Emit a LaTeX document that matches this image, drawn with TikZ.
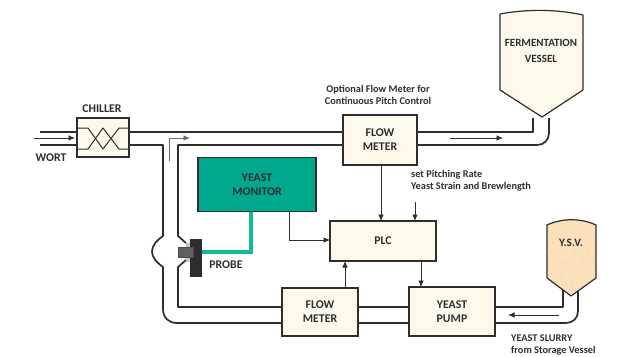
\documentclass[tikz,border=0pt]{standalone}
\usepackage{fontspec}
\setmainfont{Carlito}
\usetikzlibrary{arrows.meta}
\definecolor{ink}{HTML}{2F2D2E}
\definecolor{txt}{HTML}{2F2F31}
\definecolor{cream}{HTML}{FFF8EC}
\definecolor{monitor}{HTML}{00A88C}
\definecolor{lead}{HTML}{14B89A}
\definecolor{slurry}{HTML}{FBE0BC}
\definecolor{speck}{HTML}{F5B766}
\tikzset{
  pipe/.style={draw=ink,line width=1.7pt,line join=round},
  box/.style={draw=ink,line width=1.2pt,fill=cream,align=center,text=txt,font=\bfseries\fontsize{11.8}{14}\selectfont,inner sep=0pt,outer sep=0pt},
  flow/.style={draw=ink,line width=0.8pt,-{Latex[length=6.5pt,width=5.5pt]}},
  note/.style={text=txt,font=\bfseries\fontsize{10.3}{12.5}\selectfont,align=left,inner sep=0pt},
  label/.style={text=txt,font=\bfseries\fontsize{11.8}{14}\selectfont,inner sep=0pt,align=center},
  vessel/.style={draw=ink,line width=1.2pt,line join=round},
}
\begin{document}
\begin{tikzpicture}[x=1pt,y=-1pt]
\useasboundingbox[fill=white] (0,0) rectangle (618,356);
% boxes
\node[box,minimum width=52pt,minimum height=39pt] (chiller) at (103,137.5) {};
\node[box,minimum width=74pt,minimum height=50pt] (fmtop) at (380,140) {FLOW\\METER};
\node[box,minimum width=76pt,minimum height=48pt] (fmlow) at (320,312) {FLOW\\METER};
\node[box,minimum width=86pt,minimum height=49pt] (pump) at (452,311.5) {YEAST\\PUMP};
\node[box,minimum width=106pt,minimum height=40pt] (plc) at (383,241) {PLC};
\node[box,fill=monitor,minimum width=118pt,minimum height=54pt] (monitor) at (257,184.5) {YEAST\\MONITOR};
% waypoints
\coordinate (fvL) at (533,118);
\coordinate (fvR) at (549,118);
\coordinate (ysL) at (563,290);
\coordinate (ysR) at (578,290);
\coordinate (wa) at (40,132);
\coordinate (wb) at (40,145);
% pipes
\draw[pipe] (wa) -- (chiller.west |- wa);
\draw[pipe] (wb) -- (chiller.west |- wb);
\draw[pipe] (chiller.east |- wa) -- (fmtop.west |- wa);
\draw[pipe] (fmtop.east |- wa) -- (fvL |- wa) -- (fvL);
\draw[pipe] (fmtop.east |- wb) -- (537,145) .. controls (544,145) and (549,140) .. (549,133) -- (fvR);
\draw[pipe] (chiller.east |- wb) -- (163,145) -- (163,236)
   .. controls (156,241) and (152,246) .. (152,251.5)
   .. controls (152,257) and (156,262) .. (163,267)
   -- (163,309) .. controls (163,318) and (169,323) .. (177,323) -- (fmlow.west |- 0,323);
\draw[pipe] (fmtop.west |- wb) -- (178,145) -- (178,236) -- (186,243);
\draw[pipe] (186,260) -- (178,267) -- (178,307) -- (fmlow.west |- 0,307);
\draw[pipe] (fmlow.east |- 0,307) -- (pump.west |- 0,307);
\draw[pipe] (fmlow.east |- 0,323) -- (pump.west |- 0,323);
\draw[pipe] (pump.east |- 0,307) -- (ysL |- 0,307) -- (ysL);
\draw[pipe] (pump.east |- 0,323) -- (566,323) .. controls (573,323) and (578,318) .. (578,311) -- (ysR);
% fermentation vessel
\draw[vessel,fill=cream] (500,14) .. controls (527,9) and (556,9) .. (583,15) -- (583,90) -- (542,117) -- (500,90) -- cycle;
\node[label,font=\bfseries\fontsize{11}{16}\selectfont] (fv) at (541,51) {FERMENTATION\\VESSEL};
% Y.S.V.
\draw[vessel,fill=slurry] (547,225) .. controls (562,218) and (581,218) .. (596,225) -- (596,278) -- (571,296) -- (547,278) -- cycle;
\foreach \px/\py in {552/232,558/238,566/226,587/231,590/241,551/252,563/262,566/263,575/250,583/258,555/270,561/277,570/266,579/275,590/268,588/250,553/243,578/241,572/285,566/284,577/283,558/258,583/272,593/258}
  \fill[speck] (\px,\py) circle (0.7pt);
\node[label,font=\bfseries\fontsize{11.3}{14}\selectfont] (ysv) at (571,243) {Y.S.V.};
% chiller coil
\draw[draw=ink,line width=1pt,line join=round] (chiller.west |- 0,128) -- (88,128) -- (103,149) -- (119,128) -- (chiller.east |- 0,128);
\draw[draw=ink,line width=1pt,line join=round] (chiller.west |- 0,149) -- (88,149) -- (103,128) -- (119,149) -- (chiller.east |- 0,149);
% probe
\fill[gray!45] (186,243) rectangle (191,262);
\draw[draw=lead,line width=3.6pt] (monitor.south -| 251,0) -- (251,252) -- (200,252);
\node[fill=ink,minimum width=12pt,minimum height=38pt,inner sep=0pt,outer sep=0pt] (probe) at (196,258) {};
\node[fill=gray!75!black,draw=gray!60!black,line width=0.4pt,minimum width=15pt,minimum height=10pt,inner sep=0pt,outer sep=0pt] (tip) at (185.5,252) {};
\node[label] (probelabel) at (226,265) {PROBE};
% signal arrows
\coordinate (corner) at (289,240);
\draw[flow] (monitor.south -| corner) -- (corner) -- (plc.west |- corner);
\draw[flow] (fmtop.south -| 381,0) -- (plc.north -| 381,0);
\coordinate (setp) at (415,202);
\draw[flow] (setp) -- (plc.north -| setp);
\draw[flow] (fmlow.north -| 345,0) -- (plc.south -| 345,0);
\draw[flow] (plc.south -| 421,0) -- (pump.north -| 421,0);
% flow arrows
\coordinate (wi) at (34,138);
\coordinate (wo) at (75,138);
\draw[flow] (wi) -- (wo);
\coordinate (fa) at (450,138);
\coordinate (fb) at (503,138);
\draw[flow] (fa) -- (fb);
\coordinate (sa) at (559,315);
\coordinate (sb) at (508,315);
\draw[flow] (sa) -- (sb);
\coordinate (ga) at (169,161);
\coordinate (gb) at (169,138);
\coordinate (gc) at (190,138);
\draw[draw=ink!70,line width=0.8pt,-{Latex[length=6.5pt,width=5.5pt]}] (ga) -- (gb) -- (gc);
% labels
\node[label] (chl) at (102,109) {CHILLER};
\node[label] (wort) at (51,158) {WORT};
\node[note,align=center] (opt) at (378,95) {Optional Flow Meter for\\Continuous Pitch Control};
\node[note,anchor=west] (set) at (411,181) {set Pitching Rate\\Yeast Strain and Brewlength};
\node[note,anchor=west] (ys) at (511,345) {YEAST SLURRY\\from Storage Vessel};
\end{tikzpicture}
\end{document}
